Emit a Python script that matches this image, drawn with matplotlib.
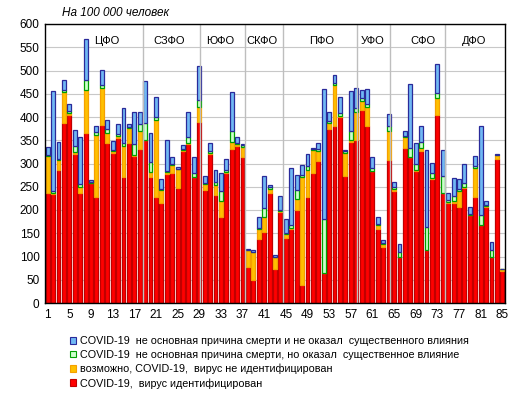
import matplotlib
matplotlib.use("Agg")
import matplotlib.pyplot as plt
from matplotlib.patches import Patch
import numpy as np

plt.rcParams['font.family'] = ['Liberation Sans', 'DejaVu Sans']

regions = list(range(1, 86))

# segment heights (per 100 000)
virus_identified = [236, 234, 286, 387, 404, 321, 236, 366, 259, 229, 383, 344, 323, 355, 271, 344, 316, 332,
                    350, 270, 229, 216, 277, 280, 248, 327, 343, 271, 389,
                    244, 321, 233, 184, 280, 331, 337, 314,
                    77, 49, 137, 153, 237, 74, 196,
                    139, 160, 200, 39, 229, 280, 306, 64, 374, 380, 399, 274, 347, 351,
                    414, 381, 283, 159, 121, 307,
                    241, 100, 334, 314, 283, 327, 113, 267, 404, 236,
                    216, 216, 207, 247, 189, 229, 167, 206, 100, 310, 69]
possible = [80, 3, 21, 67, 5, 4, 14, 93, 0, 132, 80, 22, 3, 4, 66, 33, 2, 38,
            1, 12, 165, 28, 4, 16, 41, 3, 1, 1, 32,
            12, 1, 21, 36, 1, 16, 6, 22,
            37, 61, 22, 31, 9, 26, 1,
            10, 1, 23, 231, 57, 50, 21, 0, 13, 89, 3, 49, 4, 59,
            20, 40, 1, 8, 6, 63,
            5, 0, 22, 1, 3, 7, 0, 1, 36, 0,
            2, 4, 34, 3, 1, 62, 0, 2, 0, 9, 4]
contributing = [3, 3, 2, 3, 4, 13, 6, 21, 1, 6, 5, 8, 3, 4, 7, 2, 23, 14,
                36, 22, 7, 2, 2, 3, 0, 2, 12, 8, 15,
                3, 5, 7, 20, 6, 23, 2, 3,
                0, 0, 2, 20, 3, 0, 3,
                2, 6, 21, 6, 8, 1, 4, 117, 4, 4, 7, 3, 19, 10,
                6, 6, 7, 2, 3, 10,
                3, 10, 4, 18, 14, 12, 51, 12, 11, 38,
                3, 11, 5, 7, 1, 3, 22, 2, 14, 0, 0]
not_contributing = [17, 216, 38, 23, 14, 33, 100, 88, 4, 14, 33, 19, 20, 23, 76, 7, 70, 27,
                    90, 62, 42, 20, 67, 14, 4, 7, 55, 33, 73,
                    14, 17, 24, 39, 22, 84, 12, 4,
                    3, 3, 23, 69, 4, 4, 30,
                    29, 124, 32, 20, 27, 2, 13, 279, 20, 18, 34, 4, 86, 43,
                    19, 34, 22, 15, 6, 27,
                    12, 17, 9, 137, 44, 35, 165, 21, 63, 56,
                    15, 38, 20, 42, 15, 22, 191, 9, 17, 2, 0]

districts = ['ЦФО', 'СЗФО', 'ЮФО', 'СКФО', 'ПФО', 'УФО', 'СФО', 'ДФО']
district_label_x = [12.0, 23.4, 32.8, 40.6, 51.6, 61.0, 70.3, 79.7]
district_borders = [18.55, 29.05, 37.4, 44.53, 58.2, 64.2, 74.47]

labels = ['COVID-19,  вирус идентифицирован',
          'возможно, COVID-19,  вирус не идентифицирован',
          'COVID-19  не основная причина смерти, но оказал  существенное влияние',
          'COVID-19  не основная причина смерти и не оказал  существенного влияния']
fills = ['#FF0000', '#FFC000', '#CCFFCC', '#70B8F4']
edges = ['#C00000', '#F5A000', '#00A000', '#2A2A9A']

fig = plt.figure(figsize=(5.17, 3.94), dpi=100)
ax = fig.add_axes([45 / 517, 1 - 303 / 394, 460 / 517, 279 / 394])

x = np.array(regions)
series = [virus_identified, possible, contributing, not_contributing]
bottom = np.zeros(len(x))
for vals, fc, ec in zip(series, fills, edges):
    v = np.array(vals, dtype=float)
    ax.bar(x, v, bottom=bottom, width=0.72, color=fc, edgecolor=ec, linewidth=0.9, zorder=2)
    bottom += v

ax.set_xlim(0.5, 85.5)
ax.set_ylim(0, 600)
ax.set_yticks(np.arange(0, 601, 50))
ax.set_xticks(np.arange(1, 86, 4))
ax.tick_params(axis='both', labelsize=8.5, length=0, pad=4)
ax.grid(axis='y', color='#C8C8C8', linewidth=0.8, zorder=0)
ax.set_axisbelow(True)
for b in district_borders:
    ax.axvline(b, color='#BEBEBE', linewidth=1.0, zorder=3)
for sp in ax.spines.values():
    sp.set_color('black')
    sp.set_linewidth(1.0)
    sp.set_zorder(5)

for name, xl in zip(districts, district_label_x):
    ax.text(xl, 564, name, ha='center', va='center', fontsize=8, zorder=4)

fig.text(62 / 517, 1 - 13 / 394, 'На 100 000 человек', style='italic', fontsize=8.5,
         ha='left', va='center')

handles = [Patch(facecolor=fc, edgecolor=ec, linewidth=0.8) for fc, ec in zip(fills, edges)]
fig.legend(handles[::-1], labels[::-1], loc='upper left', bbox_to_anchor=(70 / 517, 1 - 336 / 394),
           frameon=False, fontsize=7.75, handlelength=0.6, handleheight=0.6, handletextpad=0.3,
           labelspacing=0.36, borderpad=0, borderaxespad=0)

fig.savefig('out.png', dpi=100)
